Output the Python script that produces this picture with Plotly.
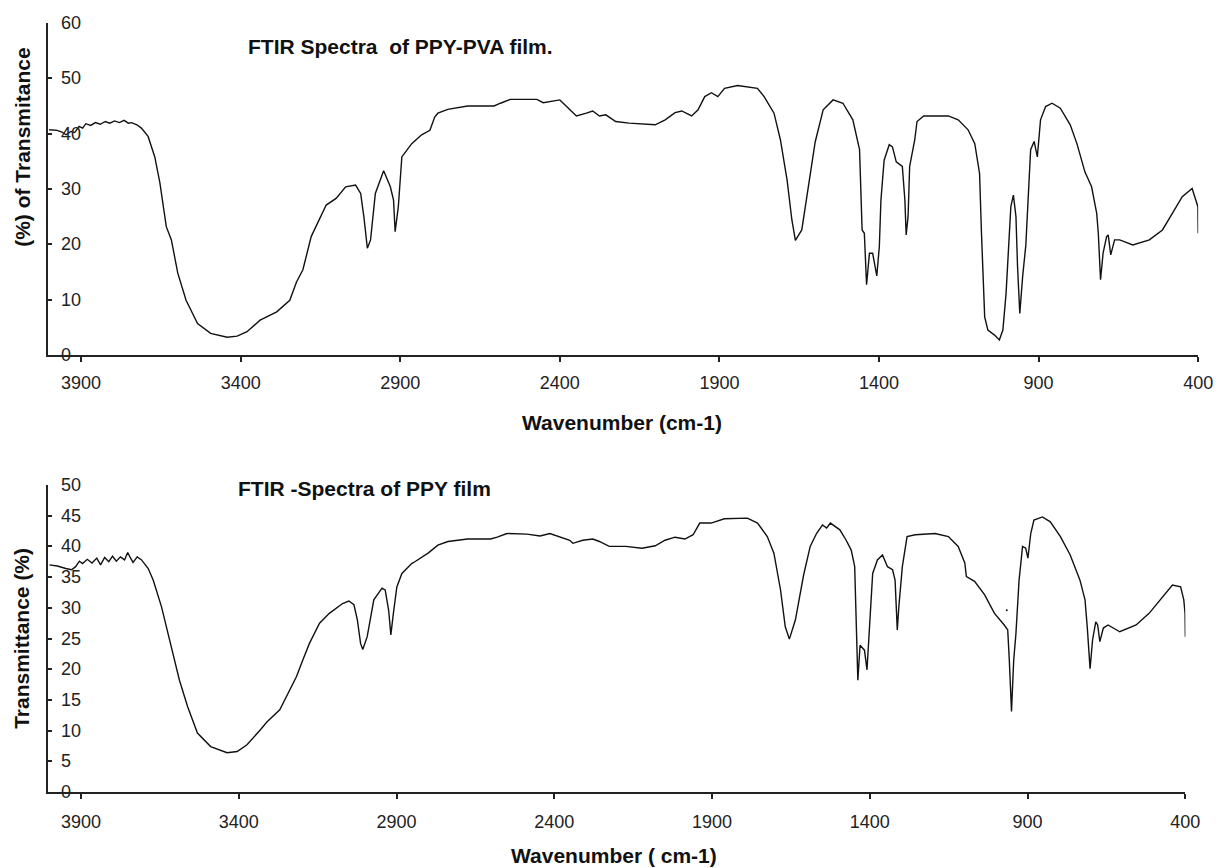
import plotly.graph_objects as go

# ---------------- data ----------------
wn_top = [4000, 3975, 3960, 3947, 3932, 3920, 3906, 3895, 3885, 3870, 3855, 3840, 3824, 3810, 3795, 3780,
          3765, 3752, 3742, 3725, 3711, 3690, 3669, 3653, 3633, 3617, 3597, 3571, 3535, 3494, 3442, 3411,
          3380, 3339, 3287, 3246, 3225, 3205, 3179, 3153, 3132, 3101, 3071, 3040, 3024, 3014, 3003, 2993,
          2978, 2952, 2931, 2921, 2916, 2906, 2895, 2864, 2833, 2807, 2792, 2782, 2751, 2689, 2606, 2586,
          2555, 2472, 2452, 2400, 2369, 2348, 2317, 2297, 2276, 2256, 2225, 2183, 2101, 2070, 2039, 2018,
          1987, 1967, 1946, 1925, 1905, 1884, 1843, 1781, 1760, 1729, 1709, 1688, 1673, 1662, 1642, 1621,
          1600, 1575, 1544, 1513, 1482, 1461, 1453, 1446, 1439, 1430, 1420, 1407, 1399, 1394, 1384, 1368,
          1358, 1346, 1327, 1319, 1315, 1309, 1304, 1288, 1281, 1260, 1183, 1152, 1121, 1100, 1085, 1079,
          1069, 1059, 1038, 1023, 1012, 1002, 997, 987, 979, 971, 966, 959, 950, 940, 933, 925,
          914, 904, 894, 878, 858, 832, 801, 780, 755, 734, 718, 713, 706, 698, 687, 682,
          674, 662, 646, 605, 553, 512, 481, 450, 419, 409, 401, 400]
t_top = [40.7, 40.6, 40.3, 39.8, 40.4, 40.2, 41.3, 41.0, 41.8, 41.5, 42.0, 41.7, 42.2, 41.9, 42.3, 42.0,
         42.4, 41.9, 42.0, 41.6, 41.0, 39.5, 35.8, 31.1, 23.2, 20.8, 14.8, 9.9, 5.7, 3.9, 3.2, 3.4,
         4.2, 6.3, 7.8, 9.9, 13.2, 15.4, 21.4, 24.4, 27.1, 28.3, 30.4, 30.7, 29.2, 25.0, 19.3, 20.8,
         29.2, 33.3, 30.4, 28.0, 22.3, 26.8, 35.8, 38.2, 39.8, 40.6, 43.0, 43.7, 44.4, 45.0, 45.0, 45.5,
         46.2, 46.2, 45.6, 46.1, 44.3, 43.2, 43.7, 44.1, 43.2, 43.4, 42.2, 41.9, 41.6, 42.5, 43.8, 44.1,
         43.2, 44.3, 46.7, 47.4, 46.7, 48.2, 48.7, 48.2, 46.7, 43.7, 38.9, 31.6, 24.4, 20.7, 22.6, 30.4,
         38.5, 44.3, 46.1, 45.5, 42.5, 37.1, 22.6, 22.0, 12.7, 18.4, 18.4, 14.3, 19.6, 28.0, 35.2, 38.0,
         37.6, 34.9, 34.1, 28.0, 21.7, 25.0, 34.1, 38.9, 42.2, 43.2, 43.2, 42.5, 40.7, 38.2, 32.8, 22.0,
         6.9, 4.5, 3.6, 2.7, 4.5, 11.1, 16.0, 26.8, 28.9, 25.0, 16.0, 7.5, 14.2, 19.9, 28.0, 37.1,
         38.6, 35.8, 42.5, 44.9, 45.5, 44.6, 41.6, 38.2, 33.1, 30.4, 25.6, 22.0, 13.6, 18.4, 21.4, 21.7,
         18.1, 20.8, 20.8, 19.9, 20.8, 22.6, 25.6, 28.6, 30.1, 28.0, 26.8, 22.0]

wn_bot = [4000, 3975, 3948, 3930, 3917, 3905, 3895, 3880, 3865, 3850, 3838, 3825, 3812, 3800, 3788, 3775,
          3762, 3752, 3744, 3735, 3722, 3708, 3687, 3671, 3645, 3614, 3588, 3562, 3531, 3489, 3437, 3405,
          3374, 3332, 3311, 3270, 3249, 3217, 3197, 3176, 3144, 3113, 3071, 3051, 3035, 3024, 3014, 3007,
          2993, 2972, 2946, 2936, 2925, 2918, 2910, 2899, 2883, 2852, 2842, 2800, 2769, 2737, 2675, 2602,
          2581, 2550, 2487, 2445, 2414, 2383, 2351, 2341, 2310, 2278, 2257, 2226, 2174, 2122, 2080, 2049,
          2017, 1986, 1960, 1939, 1903, 1861, 1788, 1756, 1725, 1704, 1683, 1668, 1655, 1636, 1610, 1589,
          1569, 1550, 1537, 1525, 1510, 1495, 1475, 1459, 1448, 1443, 1438, 1431, 1417, 1409, 1402, 1391,
          1376, 1360, 1344, 1328, 1320, 1316, 1313, 1308, 1297, 1282, 1256, 1193, 1151, 1120, 1099, 1094,
          1068, 1036, 1005, 974, 963, 958, 951, 944, 937, 927, 916, 906, 899, 890, 880, 853,
          828, 796, 765, 734, 718, 711, 702, 694, 684, 678, 671, 660, 645, 608, 556, 515,
          473, 441, 415, 405, 401, 400]
t_bot = [37.0, 36.8, 36.4, 36.2, 36.7, 37.6, 37.2, 37.9, 37.3, 38.1, 37.0, 38.2, 37.5, 38.4, 37.6, 38.3,
         37.8, 39.0, 38.2, 37.4, 38.3, 37.8, 36.4, 34.5, 30.2, 23.7, 18.2, 13.9, 9.6, 7.4, 6.4, 6.6,
         7.7, 10.1, 11.4, 13.4, 15.5, 18.8, 21.5, 24.2, 27.5, 29.1, 30.7, 31.1, 30.5, 28.0, 24.2, 23.2,
         25.3, 31.3, 33.2, 32.9, 29.6, 25.6, 29.1, 33.4, 35.6, 37.2, 37.5, 38.9, 40.2, 40.8, 41.2, 41.2,
         41.5, 42.1, 42.0, 41.7, 42.1, 41.5, 41.0, 40.5, 41.0, 41.2, 40.8, 40.0, 40.0, 39.7, 40.1, 41.0,
         41.5, 41.2, 41.9, 43.8, 43.8, 44.5, 44.6, 43.8, 41.6, 38.9, 32.9, 26.9, 24.9, 28.0, 35.3, 40.0,
         42.1, 43.5, 43.0, 43.8, 43.2, 42.7, 41.0, 39.4, 36.7, 24.8, 18.2, 23.9, 23.1, 19.9, 26.4, 35.6,
         37.8, 38.6, 36.7, 36.2, 34.5, 30.2, 26.4, 30.2, 36.7, 41.6, 41.9, 42.1, 41.6, 40.0, 37.3, 35.1,
         34.3, 32.1, 29.1, 27.2, 26.4, 21.5, 13.1, 21.5, 25.8, 34.5, 40.0, 39.7, 38.1, 42.1, 44.3, 44.8,
         44.0, 41.6, 38.6, 34.5, 31.3, 26.9, 20.1, 24.8, 27.7, 27.2, 24.5, 26.7, 27.2, 26.1, 27.2, 29.1,
         31.8, 33.7, 33.4, 31.3, 29.1, 25.3]

# stray point visible in the lower spectrum
wn_dot = [966]
t_dot = [29.6]

x_ticks = [3900, 3400, 2900, 2400, 1900, 1400, 900, 400]
y_ticks_top = [0, 10, 20, 30, 40, 50, 60]
y_ticks_bot = [0, 5, 10, 15, 20, 25, 30, 35, 40, 45, 50]

title_top = "FTIR Spectra  of PPY-PVA film."
title_bot = "FTIR -Spectra of PPY film"
xlab_top = "Wavenumber (cm-1)"
xlab_bot = "Wavenumber ( cm-1)"
ylab_top = "(%) of Transmitance"
ylab_bot = "Transmittance (%)"

# ---------------- figure ----------------
OFF = 8                      # default page body margin
W, H = 1230 - OFF, 868 - OFF
FONT = "Arial, Liberation Sans, Helvetica, sans-serif"
INK = "#111111"


def px_x(p):
    return (p - OFF) / W


def px_y(p):
    return 1 - (p - OFF) / H


fig = go.Figure()
fig.add_trace(go.Scatter(x=wn_top, y=t_top, mode="lines", line=dict(color=INK, width=1.4),
                         xaxis="x", yaxis="y", showlegend=False, hoverinfo="skip"))
fig.add_trace(go.Scatter(x=wn_bot, y=t_bot, mode="lines", line=dict(color=INK, width=1.4),
                         xaxis="x2", yaxis="y2", showlegend=False, hoverinfo="skip"))
fig.add_trace(go.Scatter(x=wn_dot, y=t_dot, mode="markers", marker=dict(color=INK, size=2),
                         xaxis="x2", yaxis="y2", showlegend=False, hoverinfo="skip"))

xcommon = dict(showgrid=False, zeroline=False, showline=True, linecolor="#222222", linewidth=1.5,
               ticks="outside", ticklen=5, tickwidth=1.5, tickcolor="#222222",
               tickvals=x_ticks, ticktext=[str(v) for v in x_ticks],
               tickfont=dict(family=FONT, size=18, color="#222222"))
ycommon = dict(showgrid=False, zeroline=False, showline=True, linecolor="#222222", linewidth=1.5,
               ticks="inside", ticklen=4, tickwidth=1.5, tickcolor="#222222",
               showticklabels=False)

fig.update_layout(
    width=W, height=H, margin=dict(l=0, r=0, t=0, b=0),
    paper_bgcolor="white", plot_bgcolor="white",
    xaxis=dict(domain=[px_x(49), px_x(1213)], range=[4002, 400], anchor="y",
               ticklabelstandoff=6, **xcommon),
    yaxis=dict(domain=[px_y(355), px_y(23)], range=[0, 60], tickvals=y_ticks_top, anchor="x", **ycommon),
    xaxis2=dict(domain=[px_x(49), px_x(1200)], range=[4003, 400], anchor="y2",
                ticklabelstandoff=8, **xcommon),
    yaxis2=dict(domain=[px_y(792), px_y(485)], range=[0, 50], tickvals=y_ticks_bot, anchor="x2", **ycommon),
)

ann_font = dict(family=FONT, size=21, color=INK)
annotations = [
    dict(text="<b>" + title_top + "</b>", x=px_x(250), y=px_y(47), xanchor="left", yanchor="middle"),
    dict(text="<b>" + title_bot + "</b>", x=px_x(240), y=px_y(488), xanchor="left", yanchor="middle"),
    dict(text="<b>" + xlab_top + "</b>", x=px_x(630), y=px_y(422), xanchor="center", yanchor="middle"),
    dict(text="<b>" + xlab_bot + "</b>", x=px_x(622), y=px_y(855), xanchor="center", yanchor="middle"),
    dict(text="<b>" + ylab_top + "</b>", x=px_x(23), y=px_y(147), xanchor="center", yanchor="middle",
         textangle=-90),
    dict(text="<b>" + ylab_bot + "</b>", x=px_x(21), y=px_y(638), xanchor="center", yanchor="middle",
         textangle=-90),
]
for a in annotations:
    a.update(xref="paper", yref="paper", showarrow=False, font=ann_font, borderpad=0)

tick_font = dict(family=FONT, size=18, color="#222222")
for v in y_ticks_top:
    annotations.append(dict(text=str(v), xref="paper", yref="y", x=px_x(61), y=v, xanchor="left",
                            yanchor="middle", showarrow=False, font=tick_font, borderpad=0))
for v in y_ticks_bot:
    annotations.append(dict(text=str(v), xref="paper", yref="y2", x=px_x(61), y=v, xanchor="left",
                            yanchor="middle", showarrow=False, font=tick_font, borderpad=0))

fig.update_layout(annotations=annotations)

fig.write_html("out.html")
